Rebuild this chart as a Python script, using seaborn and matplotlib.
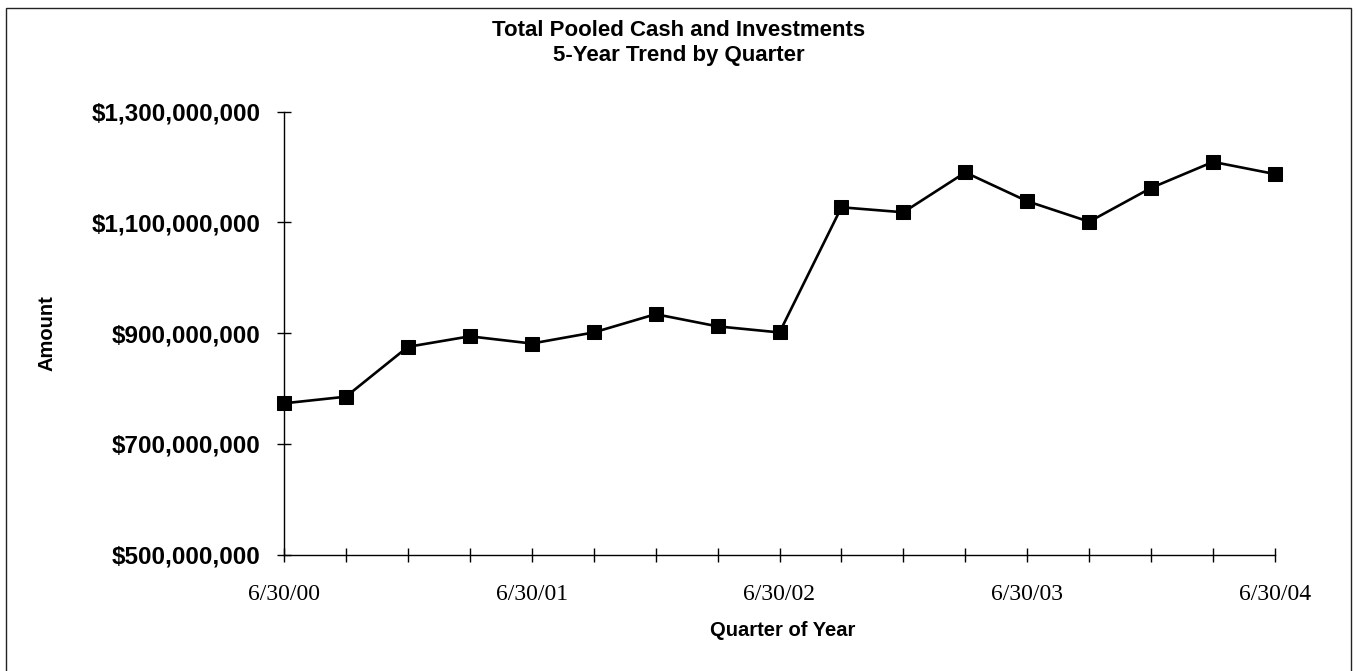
import numpy as np
import pandas as pd
import matplotlib
matplotlib.use("Agg")
import matplotlib.pyplot as plt
import seaborn as sns
from matplotlib.ticker import FuncFormatter, FixedLocator
from matplotlib.patches import Rectangle

# ---- data ----
quarters = ["6/30/00", "9/30/00", "12/31/00", "3/31/01",
            "6/30/01", "9/30/01", "12/31/01", "3/31/02",
            "6/30/02", "9/30/02", "12/31/02", "3/31/03",
            "6/30/03", "9/30/03", "12/31/03", "3/31/04",
            "6/30/04"]
amounts = [773e6, 785e6, 875e6, 894e6,
           881e6, 901e6, 934e6, 912e6,
           901e6, 1127e6, 1118e6, 1190e6,
           1138e6, 1101e6, 1162e6, 1209e6,
           1187e6]
labeled_quarters = ["6/30/00", "6/30/01", "6/30/02", "6/30/03", "6/30/04"]
y_ticks = [500e6, 700e6, 900e6, 1100e6, 1300e6]

title_lines = ["Total Pooled Cash and Investments", "5-Year Trend by Quarter"]
x_label = "Quarter of Year"
y_label = "Amount"

df = pd.DataFrame({"quarter": quarters, "amount": amounts})
df["pos"] = np.arange(len(df))

sns.set_theme(style="white")
plt.rcParams["font.family"] = ["Liberation Sans", "DejaVu Sans"]
plt.rcParams["text.color"] = "black"
plt.rcParams["axes.labelcolor"] = "black"
plt.rcParams["xtick.color"] = "black"
plt.rcParams["ytick.color"] = "black"

fig = plt.figure(figsize=(13.58, 6.71), dpi=100)
ax = fig.add_axes([284 / 1358, 1 - 554.5 / 671, (1275 - 284) / 1358, (554.5 - 111.5) / 671])

sns.lineplot(data=df, x="pos", y="amount", ax=ax, color="black", linewidth=1.9,
             marker="s", markersize=9.5, markeredgecolor="black",
             markerfacecolor="black", clip_on=False, zorder=5)

ax.set_xlim(0, len(df) - 1)
ax.set_ylim(min(y_ticks), max(y_ticks))

ax.xaxis.set_major_locator(FixedLocator(df["pos"].tolist()))
ax.set_xticklabels([q if q in labeled_quarters else "" for q in df["quarter"]],
                   fontfamily="Liberation Serif", fontsize=17, color="black")
ax.yaxis.set_major_locator(FixedLocator(y_ticks))
ax.yaxis.set_major_formatter(FuncFormatter(lambda v, p: "${:,.0f}".format(v)))
for lbl in ax.get_yticklabels():
    lbl.set_fontweight("bold")
    lbl.set_fontsize(17.5)
    lbl.set_color("black")

ax.tick_params(axis="x", bottom=True, direction="inout", length=10, width=1,
               color="black", pad=16)
ax.tick_params(axis="y", left=True, direction="inout", length=10, width=1,
               color="black", pad=12)

for s in ["top", "right"]:
    ax.spines[s].set_visible(False)
for s in ["left", "bottom"]:
    ax.spines[s].set_color("black")
    ax.spines[s].set_linewidth(1)

ax.set_xlabel("")
ax.set_ylabel("")
ax.grid(False)

fig.text(783 / 1358, 1 - 630 / 671, x_label, ha="center", va="center",
         fontsize=14.5, fontweight="bold", color="black")
fig.text(47 / 1358, 1 - 333 / 671, y_label, ha="center", va="center",
         rotation=90, fontsize=14.5, fontweight="bold", color="black")
fig.text(0.5, 1 - 30 / 671, title_lines[0], ha="center", va="center",
         fontsize=16, fontweight="bold", color="black")
fig.text(0.5, 1 - 56 / 671, title_lines[1], ha="center", va="center",
         fontsize=16, fontweight="bold", color="black")

fig.patches.append(Rectangle((6 / 1358, -0.05), (1351 - 6) / 1358, 1.05 - 8 / 671,
                             transform=fig.transFigure, fill=False,
                             edgecolor="#222222", linewidth=1.0))

fig.savefig("out.png", dpi=100, facecolor="white")
